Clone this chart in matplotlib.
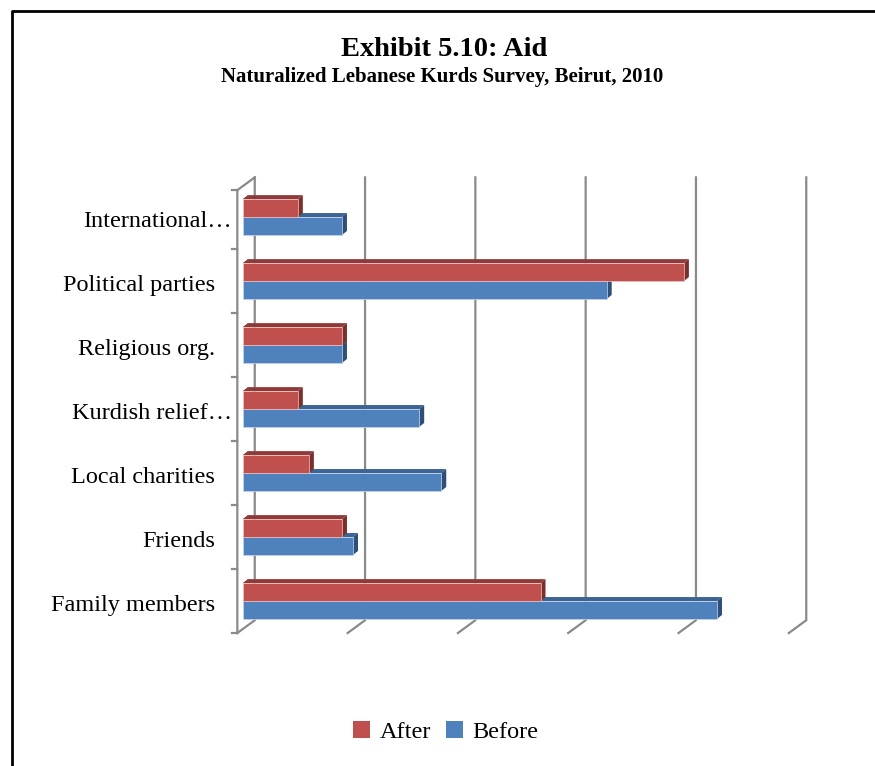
import matplotlib.pyplot as plt
from matplotlib.patches import Polygon, Patch
from matplotlib.lines import Line2D

categories = ['Family members', 'Friends', 'Local charities', 'Kurdish relief…',
              'Religious org.', 'Political parties', 'International…']
after = [27, 9, 6, 5, 9, 40, 5]
before = [43, 10, 18, 16, 9, 33, 9]
grid_values = [0, 10, 20, 30, 40, 50]

plt.rcParams['font.family'] = ['Liberation Serif', 'DejaVu Serif']

after_cols = ('#C0504D', '#8F3A38', '#7B2F2D')   # front, top, side
before_cols = ('#4F81BD', '#3C6494', '#2E4F77')

fig = plt.figure(figsize=(8.75, 7.66), dpi=100)
ax = fig.add_axes([0.2585, 0.1527, 0.6681, 0.6266])
ax.set_xlim(-1.5, 51.5)
ax.set_ylim(-0.75, 6.75)
ax.axis('off')

# walls of the 3D box: front edge and back wall offsets
fx = -0.49
bx, by = 1.09, 0.2
top = 6.42
gcol = '#8A8A8A'
for v in grid_values:
    ax.plot([v + fx, v + bx, v + bx], [-0.5, -0.5 + by, top + by],
            color=gcol, lw=1.6, zorder=1, solid_joinstyle='miter')
ax.plot([fx, fx, bx], [-0.5, top, top + by], color=gcol, lw=1.6, zorder=1)
for k in range(len(categories) + 1):
    ax.plot([fx - 0.45, fx], [min(k - 0.5, top)] * 2, color=gcol, lw=1.6, zorder=1)

h = 0.28
dx, dy = 0.45, 0.0625


def bar3d(y0, v, cols, z):
    front, top_c, side = cols
    ax.add_patch(Polygon([(0, y0 + h), (v, y0 + h), (v + dx, y0 + h + dy), (dx, y0 + h + dy)],
                         closed=True, facecolor=top_c, edgecolor='none', zorder=z))
    ax.add_patch(Polygon([(v, y0), (v + dx, y0 + dy), (v + dx, y0 + h + dy), (v, y0 + h)],
                         closed=True, facecolor=side, edgecolor='none', zorder=z))
    ax.add_patch(Polygon([(0, y0), (v, y0), (v, y0 + h), (0, y0 + h)],
                         closed=True, facecolor=front,
                         edgecolor='#E8C8C6' if front == after_cols[0] else '#C8D6EA',
                         lw=0.5, zorder=z + 0.5))


for i in range(len(categories)):
    bar3d(i - h, before[i], before_cols, 2 + i * 2)
    bar3d(i, after[i], after_cols, 3 + i * 2)
    lx = -0.97 if categories[i].endswith('…') else -2.51
    ax.text(lx, i - 0.07, categories[i], ha='right', va='center', fontsize=17.5)

fig.text(444 / 875, 1 - 49 / 766, 'Exhibit 5.10: Aid', ha='center', va='center',
         fontsize=20.5, fontweight='bold')
fig.text(442 / 875, 1 - 77 / 766, 'Naturalized Lebanese Kurds Survey, Beirut, 2010',
         ha='center', va='center', fontsize=15, fontweight='bold')

handles = [Patch(facecolor=after_cols[0]), Patch(facecolor=before_cols[0])]
fig.legend(handles, ['After', 'Before'], loc='center', bbox_to_anchor=(446 / 875, 1 - 732 / 766),
           ncol=2, frameon=False, fontsize=17.5, handlelength=0.7, handleheight=0.7,
           handletextpad=0.4, columnspacing=0.6)

# chart border (only left and top edges fall inside the image)
fig.add_artist(Line2D([12 / 875, 12 / 875, 1], [0, 1 - 11 / 766, 1 - 11 / 766],
                      color='black', lw=2, transform=fig.transFigure))

fig.savefig('out.png', dpi=100)
